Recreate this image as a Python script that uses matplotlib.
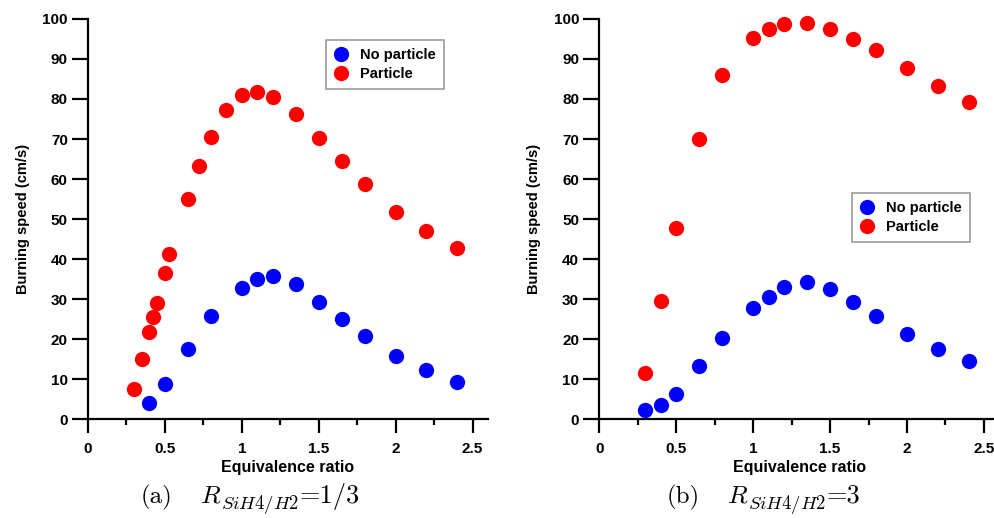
import matplotlib.pyplot as plt
from matplotlib.ticker import MultipleLocator

plt.rcParams['font.family'] = ['Liberation Sans', 'DejaVu Sans']
plt.rcParams['font.weight'] = 'bold'
plt.rcParams['mathtext.fontset'] = 'cm'

# panel (a): R = 1/3
a_red_x = [0.3, 0.35, 0.4, 0.42, 0.45, 0.5, 0.53, 0.65, 0.72, 0.8, 0.9, 1.0,
           1.1, 1.2, 1.35, 1.5, 1.65, 1.8, 2.0, 2.2, 2.4]
a_red_y = [7.5, 15.1, 21.8, 25.5, 29.0, 36.5, 41.2, 55.0, 63.3, 70.6, 77.2, 80.9,
           81.8, 80.4, 76.3, 70.3, 64.5, 58.8, 51.9, 47.0, 42.7]
a_blue_x = [0.4, 0.5, 0.65, 0.8, 1.0, 1.1, 1.2, 1.35, 1.5, 1.65, 1.8, 2.0, 2.2, 2.4]
a_blue_y = [4.2, 8.7, 17.6, 25.8, 32.7, 35.0, 35.8, 33.9, 29.4, 25.1, 20.7, 15.8, 12.2, 9.3]

# panel (b): R = 3
b_red_x = [0.3, 0.4, 0.5, 0.65, 0.8, 1.0, 1.1, 1.2, 1.35, 1.5, 1.65, 1.8, 2.0, 2.2, 2.4]
b_red_y = [11.5, 29.6, 47.8, 70.1, 86.0, 95.3, 97.5, 98.7, 98.9, 97.5, 95.1, 92.2,
           87.8, 83.3, 79.3]
b_blue_x = [0.3, 0.4, 0.5, 0.65, 0.8, 1.0, 1.1, 1.2, 1.35, 1.5, 1.65, 1.8, 2.0, 2.2, 2.4]
b_blue_y = [2.3, 3.5, 6.4, 13.2, 20.4, 27.8, 30.6, 33.0, 34.2, 32.5, 29.4, 25.7,
            21.4, 17.5, 14.6]

xticks = [0, 0.5, 1, 1.5, 2, 2.5]
xtick_labels = ['0', '0.5', '1', '1.5', '2', '2.5']

fig = plt.figure(figsize=(9.95, 5.18), dpi=100)

panels = [
    (0.0884, a_red_x, a_red_y, a_blue_x, a_blue_y, (0.595, 0.947),
     0.1415, '(a)', '=1/3'),
    (0.6023, b_red_x, b_red_y, b_blue_x, b_blue_y, (0.632, 0.565),
     0.6695, '(b)', '=3'),
]

cap_y = 0.029

for left, rx, ry, bx, by, leg_pos, cap_x, cap_tag, cap_val in panels:
    ax = fig.add_axes([left, 0.1905, 0.402, 0.773])
    ax.plot(bx, by, 'o', color='#0000ff', markersize=11, markeredgewidth=0,
            label='No particle', clip_on=False)
    ax.plot(rx, ry, 'o', color='#ff0000', markersize=11, markeredgewidth=0,
            label='Particle', clip_on=False)
    ax.set_xlim(0, 2.6)
    ax.set_ylim(0, 100)
    ax.spines['top'].set_visible(False)
    ax.spines['right'].set_visible(False)
    ax.spines['left'].set_linewidth(1.6)
    ax.spines['bottom'].set_linewidth(1.6)
    ax.set_xticks(xticks)
    ax.set_xticklabels(xtick_labels)
    ax.xaxis.set_minor_locator(MultipleLocator(0.25))
    ax.set_yticks(range(0, 101, 10))
    ax.tick_params(axis='y', which='major', length=11.5, width=1.6, labelsize=11, pad=3)
    ax.tick_params(axis='x', which='major', length=10, width=1.6, labelsize=11, pad=6)
    ax.tick_params(axis='x', which='minor', length=4.3, width=1.6)
    ax.set_xlabel('Equivalence ratio', fontsize=11.5, fontweight='bold', labelpad=3)
    ax.set_ylabel('Burning speed (cm/s)', fontsize=10.5, fontweight='bold', labelpad=9)
    leg = ax.legend(loc='upper left', bbox_to_anchor=leg_pos, fontsize=10.5,
                    frameon=True, fancybox=False, handletextpad=0.8,
                    borderpad=0.55, labelspacing=0.35, handlelength=1.0,
                    borderaxespad=0)
    leg.get_frame().set_edgecolor('#808080')
    leg.get_frame().set_linewidth(1.2)

    # caption in LaTeX style: tag, R, larger subscript, value
    t1 = fig.text(cap_x, cap_y, cap_tag, fontsize=18, family='cmr10',
                  fontweight='normal', va='baseline', ha='left')
    tr = ax.annotate(r'$R$', xy=(1, cap_y), xycoords=(t1, 'figure fraction'),
                     xytext=(20, 0), textcoords='offset points', fontsize=18.5,
                     va='baseline', ha='left', annotation_clip=False)
    t2 = ax.annotate(r'$SiH4/H2$', xy=(1, cap_y), xycoords=(tr, 'figure fraction'),
                     xytext=(-0.5, -4.5), textcoords='offset points', fontsize=13.5,
                     va='baseline', ha='left', annotation_clip=False)
    ax.annotate(cap_val, xy=(1, cap_y), xycoords=(t2, 'figure fraction'),
                xytext=(0.5, 0), textcoords='offset points', fontsize=19,
                family='cmr10', fontweight='normal', va='baseline', ha='left',
                annotation_clip=False)

fig.savefig('out.png', dpi=100)
